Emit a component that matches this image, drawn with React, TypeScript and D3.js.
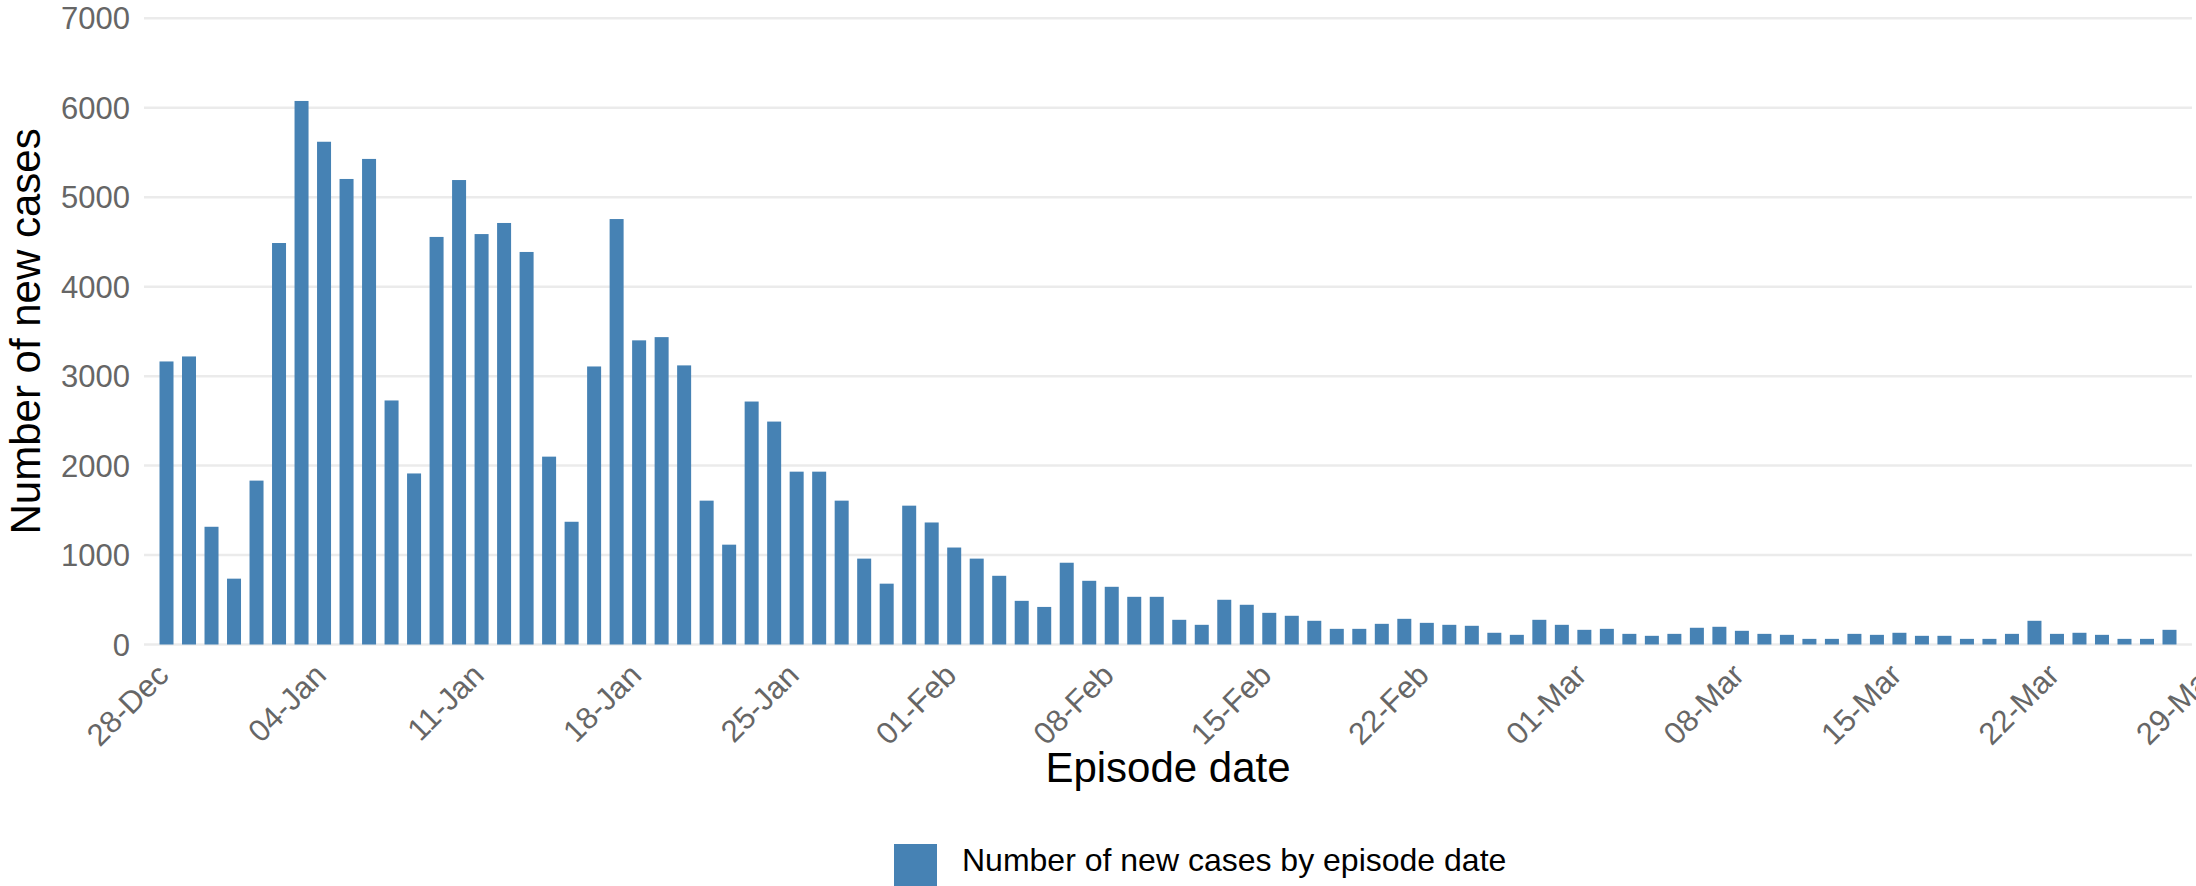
import * as React from 'react'
import * as d3 from 'd3'

// daily new cases, 28-Dec-2020 .. 27-Mar-2021
const newCases = [
	3164, 3220, 1316, 736, 1832, 4488, 6076, 5620, 5204, 5428,
	2728, 1912, 4556, 5192, 4588, 4712, 4388, 2100, 1372, 3108,
	4756, 3400, 3436, 3120, 1608, 1116, 2716, 2492, 1932, 1932,
	1608, 960, 680, 1552, 1364, 1084, 960, 768, 488, 420,
	914, 712, 645, 533, 533, 276, 220, 500, 444, 354,
	321, 265, 175, 175, 231, 287, 242, 220, 209, 131,
	108, 276, 220, 164, 175, 119, 97, 119, 187, 198,
	153, 119, 108, 63, 63, 119, 108, 131, 97, 97,
	63, 63, 119, 265, 119, 131, 108, 63, 63, 164,
]
const yTicks = [0, 1000, 2000, 3000, 4000, 5000, 6000, 7000]
const xTickLabels = [
	'28-Dec', '04-Jan', '11-Jan', '18-Jan', '25-Jan', '01-Feb', '08-Feb',
	'15-Feb', '22-Feb', '01-Mar', '08-Mar', '15-Mar', '22-Mar', '29-Mar',
]
const seriesName = 'Number of new cases by episode date'

const startDate = new Date(Date.UTC(2020, 11, 28))
const dims = { width: 2196, height: 886, left: 144, right: 2192, top: 18.3, bottom: 644.5 }
const font = '"Liberation Sans", Arial, sans-serif'
const barColor = '#4682b4'

const App: React.FC = () => {
	const svgRef = React.useRef<SVGSVGElement>(null)

	React.useEffect(() => {
		const svg = d3.select(svgRef.current)
		svg.selectAll('*').remove()

		const x = d3.scaleUtc()
			.domain([d3.utcDay.offset(startDate, -1), d3.utcDay.offset(startDate, newCases.length)])
			.range([dims.left, dims.right])
		const y = d3.scaleLinear()
			.domain([0, 7000])
			.range([dims.bottom, dims.top])

		const step = x(d3.utcDay.offset(startDate, 1)) - x(startDate)
		const barWidth = step * 0.622

		// grid
		svg.append('g')
			.selectAll('line')
			.data(yTicks)
			.enter()
			.append('line')
			.attr('x1', dims.left)
			.attr('x2', dims.right)
			.attr('y1', d => y(d))
			.attr('y2', d => y(d))
			.attr('stroke', '#ebebeb')
			.attr('stroke-width', 2.5)

		svg.append('g')
			.selectAll('text')
			.data(yTicks)
			.enter()
			.append('text')
			.attr('x', 130)
			.attr('y', d => y(d))
			.attr('dy', '0.36em')
			.attr('text-anchor', 'end')
			.attr('font-family', font)
			.attr('font-size', 31)
			.attr('fill', '#666666')
			.text(d => `${d}`)

		// bars
		svg.append('g')
			.selectAll('rect')
			.data(newCases)
			.enter()
			.append('rect')
			.attr('x', (_, i) => x(d3.utcDay.offset(startDate, i)) - barWidth / 2)
			.attr('y', d => y(d))
			.attr('width', barWidth)
			.attr('height', d => dims.bottom - y(d))
			.attr('fill', barColor)

		// x tick labels, weekly
		svg.append('g')
			.selectAll('text')
			.data(xTickLabels)
			.enter()
			.append('text')
			.attr('transform', (_, i) => `translate(${x(d3.utcDay.offset(startDate, i * 7)) + 4}, 677) rotate(-45)`)
			.attr('text-anchor', 'end')
			.attr('font-family', font)
			.attr('font-size', 31)
			.attr('fill', '#666666')
			.text(d => d)

		// axis titles
		svg.append('text')
			.attr('x', (dims.left + dims.right) / 2)
			.attr('y', 782)
			.attr('text-anchor', 'middle')
			.attr('font-family', font)
			.attr('font-size', 42)
			.attr('fill', '#000')
			.text('Episode date')

		svg.append('text')
			.attr('transform', `translate(40, ${(dims.top + dims.bottom) / 2}) rotate(-90)`)
			.attr('text-anchor', 'middle')
			.attr('font-family', font)
			.attr('font-size', 42)
			.attr('fill', '#000')
			.text('Number of new cases')

		// legend
		const legend = svg.append('g')
		legend.append('rect')
			.attr('x', 894)
			.attr('y', 844)
			.attr('width', 43)
			.attr('height', 43)
			.attr('fill', barColor)
		legend.append('text')
			.attr('x', 962)
			.attr('y', 871)
			.attr('font-family', font)
			.attr('font-size', 32)
			.attr('fill', '#000')
			.text(seriesName)
	}, [])

	return (
		<div style={{ position: 'absolute', left: 0, top: 0 }}>
			<svg ref={svgRef} width={dims.width} height={dims.height} style={{ display: 'block' }} />
		</div>
	)
}

export default App
